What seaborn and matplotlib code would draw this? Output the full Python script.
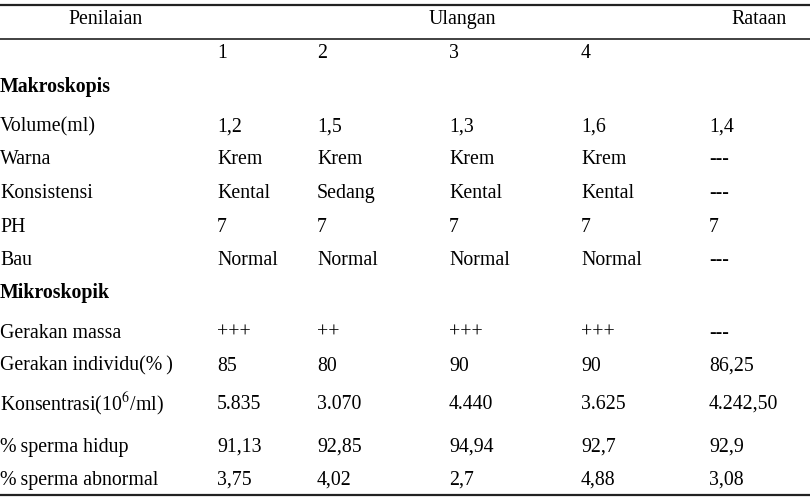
import seaborn as sns
import matplotlib.pyplot as plt

# data of the table
header = ['Penilaian', 'Ulangan', 'Rataan']
ulangan = ['1', '2', '3', '4']
section_1 = 'Makroskopis'
section_2 = 'Mikroskopik'
rows_makro = ['Volume(ml)', 'Warna', 'Konsistensi', 'PH', 'Bau']
rows_mikro = ['Gerakan massa', 'Gerakan individu(%\u2009)', 'Konsentrasi(10$^6$/ml)',
              '%\u2009sperma hidup', '%\u2009sperma abnormal']
vals_makro = [
    ['1,2', '1,5', '1,3', '1,6', '1,4'],
    ['Krem', 'Krem', 'Krem', 'Krem', '---'],
    ['Kental', 'Sedang', 'Kental', 'Kental', '---'],
    ['7', '7', '7', '7', '7'],
    ['Normal', 'Normal', 'Normal', 'Normal', '---'],
]
vals_mikro = [
    ['+++', '++', '+++', '+++', '---'],
    ['85', '80', '90', '90', '86,25'],
    ['5.835', '3.070', '4.440', '3.625', '4.242,50'],
    ['91,13', '92,85', '94,94', '92,7', '92,9'],
    ['3,75', '4,02', '2,7', '4,88', '3,08'],
]

sns.set_theme(style='white')
plt.rcParams['font.family'] = ['Liberation Serif', 'DejaVu Serif']
plt.rcParams['mathtext.fontset'] = 'stix'
plt.rcParams['text.color'] = 'black'

fig = plt.figure(figsize=(8.1, 4.98), dpi=100)
ax = fig.add_axes([0, 0, 1, 1])
ax.set_xlim(0, 810)
ax.set_ylim(498, 0)
ax.axis('off')

fs = 14.3
col_x = [217, 317, 449, 581, 709]

# garis tabel
ax.axhline(4.5, color='#222222', lw=1.6)
ax.axhline(39, color='#333333', lw=1.3)
ax.axhline(495, color='#222222', lw=1.6)

# header
ax.text(106, 19, header[0], fontsize=fs, ha='center', va='center')
ax.text(462, 19, header[1], fontsize=fs, ha='center', va='center')
ax.text(759, 19, header[2], fontsize=fs, ha='center', va='center')
for x, u in zip(col_x, ulangan):
    ax.text(x, 53, u, fontsize=fs, ha='left', va='center')

ax.text(0, 87, section_1, fontsize=fs, weight='bold', ha='left', va='center')
ax.text(0, 293, section_2, fontsize=fs, weight='bold', ha='left', va='center')

y_makro = [127, 159, 193, 227, 260]
y_mikro = [333, 366, 404, 447, 480]

for y, lab, vals in zip(y_makro + y_mikro, rows_makro + rows_mikro, vals_makro + vals_mikro):
    ax.text(0, y, lab, fontsize=fs, ha='left', va='center')
    for x, v in zip(col_x, vals):
        ax.text(x, y, v, fontsize=fs, ha='left', va='center')

fig.savefig('out.png', dpi=100, facecolor='white')
